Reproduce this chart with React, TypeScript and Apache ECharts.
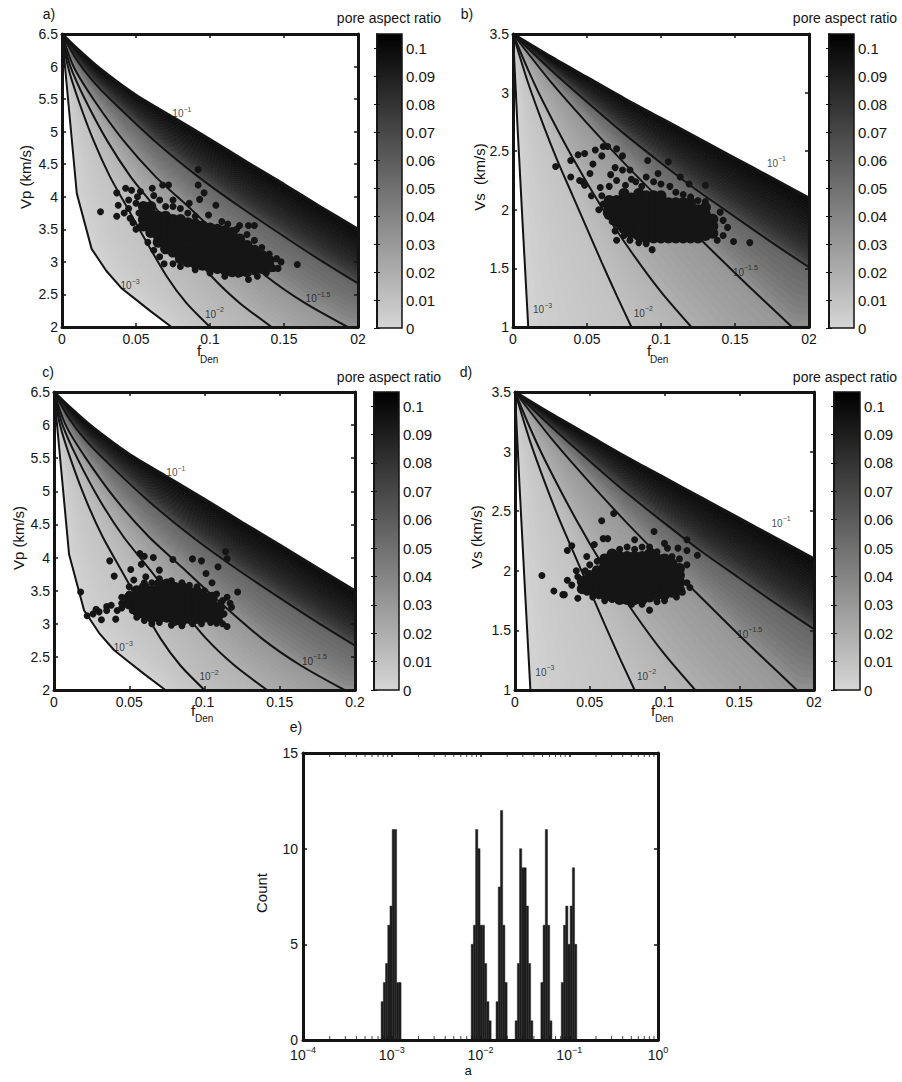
import React, { useEffect, useRef } from 'react';
import * as echarts from 'echarts';

const FONT = 'Liberation Sans, Arial, Helvetica, sans-serif';
const INK = '#141414';

// ---------- constant-aspect-ratio curves (x = f_Den, y = velocity) ----------
// exponents of the aspect ratio for each curve, top to bottom
const curveLogA = [-1, -1.25, -1.5, -1.75, -2, -3];

// Vp curves (panels a and c)
const vpA1 = [[0, 6.5], [0.01, 6.28], [0.025, 5.98], [0.05, 5.56], [0.075, 5.22], [0.1, 4.88], [0.125, 4.53], [0.15, 4.19], [0.175, 3.84], [0.2, 3.5]];
const vpA125 = [[0, 6.5], [0.01, 6.1], [0.02, 5.8], [0.033, 5.49], [0.062, 4.87], [0.092, 4.31], [0.12, 3.85], [0.15, 3.39], [0.175, 3.02], [0.2, 2.67]];
const vpA15 = [[0, 6.5], [0.0078, 6.0], [0.0215, 5.49], [0.0413, 4.87], [0.0632, 4.31], [0.0852, 3.85], [0.107, 3.39], [0.138, 2.78], [0.164, 2.37], [0.193, 2.0]];
const vpA175 = [[0, 6.5], [0.0057, 6.0], [0.0157, 5.49], [0.0303, 4.87], [0.0463, 4.31], [0.0625, 3.85], [0.0787, 3.39], [0.101, 2.78], [0.12, 2.37], [0.1416, 2.0]];
const vpA2 = [[0, 6.5], [0.004, 6.0], [0.011, 5.49], [0.0212, 4.87], [0.0324, 4.31], [0.0437, 3.85], [0.055, 3.39], [0.0707, 2.78], [0.084, 2.37], [0.1, 2.0]];
const vpA3 = [[0, 6.5], [0.01, 4.05], [0.02, 3.2], [0.03, 2.86], [0.04, 2.6], [0.05, 2.42], [0.06, 2.24], [0.074, 2.0]];
const vpCurves = [vpA1, vpA125, vpA15, vpA175, vpA2, vpA3];

// Vs curves (panels b and d)
const vsA1 = [[0, 3.5], [0.025, 3.31], [0.05, 3.13], [0.075, 2.95], [0.1, 2.78], [0.125, 2.61], [0.15, 2.44], [0.175, 2.27], [0.2, 2.1]];
const vsA125 = [[0, 3.5], [0.025, 3.2], [0.05, 2.92], [0.075, 2.65], [0.1, 2.4], [0.125, 2.16], [0.15, 1.94], [0.175, 1.72], [0.2, 1.51]];
const vsA15 = [[0, 3.5], [0.025, 3.1], [0.05, 2.74], [0.075, 2.4], [0.1, 2.08], [0.125, 1.77], [0.15, 1.46], [0.17, 1.22], [0.1885, 1.0]];
const vsA175 = [[0, 3.5], [0.01, 3.2], [0.02, 2.93], [0.04, 2.45], [0.06, 2.02], [0.08, 1.64], [0.1, 1.3], [0.1205, 1.0]];
const vsA2 = [[0, 3.5], [0.01, 3.09], [0.02, 2.74], [0.03, 2.42], [0.04, 2.13], [0.05, 1.84], [0.06, 1.55], [0.07, 1.27], [0.08, 1.0]];
const vsA3 = [[0, 3.5], [0.003, 2.72], [0.0065, 1.88], [0.0103, 1.0]];
const vsCurves = [vsA1, vsA125, vsA15, vsA175, vsA2, vsA3];

// curve labels [x, y] and exponent text
const vpLabels = [
  { value: [0.081, 5.3], name: '−1' },
  { value: [0.173, 2.46], name: '−1.5' },
  { value: [0.103, 2.22], name: '−2' },
  { value: [0.046, 2.66], name: '−3' },
];
const vsLabels = [
  { value: [0.178, 2.41], name: '−1' },
  { value: [0.157, 1.48], name: '−1.5' },
  { value: [0.088, 1.13], name: '−2' },
  { value: [0.02, 1.16], name: '−3' },
];

// ---------- measured points ----------
const outerA = [[0.026, 3.77], [0.037, 4.06], [0.037, 3.7], [0.038, 3.87], [0.043, 4.13], [0.047, 4.1], [0.045, 3.82], [0.046, 3.67], [0.051, 4.0], [0.053, 4.08], [0.055, 3.64], [0.061, 4.13], [0.062, 4.02], [0.068, 4.18], [0.072, 4.18], [0.075, 3.85], [0.075, 3.95], [0.092, 4.42], [0.092, 4.18], [0.096, 4.06], [0.093, 3.96], [0.104, 3.87], [0.099, 3.72], [0.12, 3.56], [0.126, 3.56], [0.13, 3.56], [0.148, 3.0], [0.159, 2.96], [0.126, 2.73], [0.119, 2.81], [0.062, 3.18], [0.066, 3.08], [0.069, 2.97], [0.075, 2.97], [0.143, 2.9], [0.146, 2.9],
  [0.045, 3.95], [0.05, 3.9], [0.052, 3.75], [0.058, 3.8], [0.066, 3.95], [0.07, 3.85], [0.08, 3.82], [0.085, 3.75], [0.09, 3.7], [0.108, 3.62], [0.112, 3.58], [0.118, 3.5], [0.125, 3.42], [0.13, 3.33], [0.135, 3.22], [0.14, 3.12], [0.145, 3.05], [0.138, 2.83], [0.132, 2.78], [0.11, 2.78], [0.1, 2.83], [0.09, 2.88], [0.08, 2.93], [0.058, 3.3], [0.05, 3.5], [0.048, 3.6], [0.042, 3.75], [0.086, 3.9], [0.064, 3.55]];
const coreA = [
  [0.055, 3.55, 3.65, 3.75, 3.85],
  [0.06, 3.45, 3.55, 3.65, 3.75, 3.85],
  [0.065, 3.3, 3.4, 3.5, 3.6, 3.7],
  [0.07, 3.2, 3.3, 3.4, 3.5, 3.6, 3.7],
  [0.075, 3.15, 3.25, 3.35, 3.45, 3.55, 3.65],
  [0.08, 3.05, 3.15, 3.25, 3.35, 3.45, 3.55, 3.65],
  [0.085, 3.0, 3.1, 3.2, 3.3, 3.4, 3.5, 3.6],
  [0.09, 2.98, 3.08, 3.18, 3.28, 3.38, 3.48, 3.58],
  [0.095, 2.95, 3.05, 3.15, 3.25, 3.35, 3.45, 3.55],
  [0.1, 2.92, 3.02, 3.12, 3.22, 3.32, 3.42, 3.52],
  [0.105, 2.9, 3.0, 3.1, 3.2, 3.3, 3.4, 3.5],
  [0.11, 2.88, 2.98, 3.08, 3.18, 3.28, 3.38, 3.48],
  [0.115, 2.85, 2.95, 3.05, 3.15, 3.25, 3.35, 3.45],
  [0.12, 2.85, 2.95, 3.05, 3.15, 3.25, 3.35],
  [0.125, 2.85, 2.95, 3.05, 3.15, 3.25],
  [0.13, 2.88, 2.98, 3.08, 3.18],
  [0.135, 2.9, 3.0, 3.1],
  [0.14, 2.92, 3.02],
];

const outerB = [[0.0288, 2.37], [0.039, 2.42], [0.039, 2.28], [0.044, 2.47], [0.0484, 2.48], [0.047, 2.24], [0.0484, 2.21], [0.054, 2.39], [0.0556, 2.51], [0.06, 2.46], [0.061, 2.54], [0.064, 2.54], [0.07, 2.52], [0.074, 2.46], [0.074, 2.34], [0.069, 2.36], [0.079, 2.34], [0.091, 2.42], [0.098, 2.31], [0.105, 2.41], [0.113, 2.28], [0.119, 2.22], [0.13, 2.21], [0.083, 2.24], [0.052, 2.31], [0.053, 2.12], [0.059, 2.19], [0.061, 2.05], [0.069, 1.82], [0.07, 1.74], [0.079, 1.74], [0.094, 1.66], [0.142, 1.91], [0.149, 1.73], [0.16, 1.72], [0.135, 1.82],
  [0.06, 2.12], [0.065, 2.2], [0.07, 2.25], [0.076, 2.21], [0.08, 2.26], [0.087, 2.2], [0.09, 2.28], [0.095, 2.24], [0.1, 2.22], [0.106, 2.2], [0.11, 2.15], [0.115, 2.13], [0.12, 2.11], [0.125, 2.08], [0.13, 2.07], [0.14, 1.98], [0.145, 1.85], [0.142, 1.78], [0.138, 1.74], [0.075, 1.78], [0.072, 1.86], [0.067, 1.9], [0.085, 1.72], [0.09, 1.71], [0.058, 2.0], [0.063, 1.97], [0.045, 2.25], [0.066, 2.3]];
const coreB = [
  [0.065, 1.96, 2.02, 2.08],
  [0.07, 1.9, 1.96, 2.02, 2.08],
  [0.075, 1.84, 1.9, 1.96, 2.02, 2.08, 2.14],
  [0.08, 1.8, 1.86, 1.92, 1.98, 2.04, 2.1],
  [0.085, 1.78, 1.84, 1.9, 1.96, 2.02, 2.08, 2.14],
  [0.09, 1.76, 1.82, 1.88, 1.94, 2.0, 2.06, 2.12],
  [0.095, 1.76, 1.82, 1.88, 1.94, 2.0, 2.06, 2.12],
  [0.1, 1.76, 1.82, 1.88, 1.94, 2.0, 2.06, 2.12],
  [0.105, 1.76, 1.82, 1.88, 1.94, 2.0, 2.06],
  [0.11, 1.76, 1.82, 1.88, 1.94, 2.0, 2.06],
  [0.115, 1.76, 1.82, 1.88, 1.94, 2.0, 2.06],
  [0.12, 1.76, 1.82, 1.88, 1.94, 2.0, 2.06],
  [0.125, 1.76, 1.82, 1.88, 1.94, 2.0],
  [0.13, 1.78, 1.84, 1.9, 1.96, 2.02],
  [0.135, 1.8, 1.86, 1.92],
];

const outerC = [[0.0177, 3.48], [0.026, 3.15], [0.0315, 3.06], [0.03, 3.18], [0.035, 3.26], [0.037, 3.95], [0.04, 3.72], [0.041, 3.07], [0.045, 3.31], [0.05, 3.56], [0.051, 3.82], [0.053, 3.66], [0.055, 3.1], [0.057, 4.06], [0.06, 4.02], [0.058, 3.9], [0.061, 3.71], [0.066, 4.0], [0.07, 3.81], [0.079, 3.97], [0.092, 3.98], [0.098, 3.95], [0.101, 3.76], [0.105, 3.62], [0.109, 3.86], [0.114, 4.09], [0.115, 3.98], [0.122, 3.48], [0.117, 3.31], [0.112, 3.0], [0.115, 2.96], [0.108, 3.01],
  [0.035, 3.2], [0.038, 3.28], [0.042, 3.2], [0.045, 3.24], [0.048, 3.32], [0.045, 3.4], [0.05, 3.45], [0.052, 3.2], [0.056, 3.12], [0.06, 3.05], [0.065, 3.0], [0.07, 3.02], [0.078, 2.98], [0.085, 2.97], [0.092, 3.0], [0.098, 3.0], [0.104, 3.02], [0.11, 3.05], [0.113, 3.15], [0.112, 3.35], [0.108, 3.45], [0.1, 3.5], [0.095, 3.56], [0.09, 3.58], [0.085, 3.62], [0.078, 3.65], [0.07, 3.68], [0.065, 3.62], [0.06, 3.62], [0.115, 3.4], [0.118, 3.25], [0.028, 3.22], [0.022, 3.12]];
const coreC = [
  [0.05, 3.3, 3.4],
  [0.055, 3.2, 3.3, 3.4, 3.5],
  [0.06, 3.15, 3.25, 3.35, 3.45, 3.55],
  [0.065, 3.1, 3.2, 3.3, 3.4, 3.5],
  [0.07, 3.1, 3.2, 3.3, 3.4, 3.5, 3.6],
  [0.075, 3.1, 3.2, 3.3, 3.4, 3.5, 3.6],
  [0.08, 3.05, 3.15, 3.25, 3.35, 3.45, 3.55],
  [0.085, 3.05, 3.15, 3.25, 3.35, 3.45, 3.55],
  [0.09, 3.08, 3.18, 3.28, 3.38, 3.48],
  [0.095, 3.08, 3.18, 3.28, 3.38, 3.48],
  [0.1, 3.1, 3.2, 3.3, 3.4],
  [0.105, 3.1, 3.2, 3.3, 3.4],
  [0.11, 3.15, 3.25],
];

const outerD = [[0.018, 1.96], [0.026, 1.83], [0.032, 1.8], [0.033, 1.8], [0.035, 2.17], [0.038, 2.21], [0.041, 2.0], [0.047, 2.0], [0.048, 2.12], [0.053, 2.22], [0.055, 2.08], [0.058, 2.42], [0.059, 2.27], [0.062, 2.27], [0.066, 2.48], [0.08, 2.26], [0.093, 2.33], [0.1, 2.23], [0.102, 2.19], [0.109, 2.19], [0.115, 2.26], [0.115, 2.17], [0.122, 2.13], [0.117, 1.86], [0.09, 1.67], [0.042, 1.77], [0.046, 1.87], [0.056, 1.79], [0.065, 1.76], [0.072, 1.76],
  [0.05, 2.05], [0.052, 1.78], [0.06, 1.75], [0.07, 2.18], [0.075, 2.2], [0.08, 2.18], [0.085, 2.2], [0.09, 2.2], [0.095, 2.16], [0.105, 2.12], [0.11, 2.1], [0.115, 2.05], [0.115, 1.9], [0.112, 1.82], [0.108, 1.78], [0.1, 1.75], [0.095, 1.74], [0.085, 1.72], [0.078, 1.72], [0.038, 1.88], [0.035, 1.92], [0.042, 1.95], [0.048, 1.82]];
const coreD = [
  [0.045, 1.85, 1.91],
  [0.05, 1.84, 1.9, 1.96],
  [0.055, 1.82, 1.88, 1.94, 2.0],
  [0.06, 1.8, 1.86, 1.92, 1.98, 2.04, 2.1],
  [0.065, 1.78, 1.84, 1.9, 1.96, 2.02, 2.08, 2.14],
  [0.07, 1.76, 1.82, 1.88, 1.94, 2.0, 2.06, 2.12],
  [0.075, 1.76, 1.82, 1.88, 1.94, 2.0, 2.06, 2.12],
  [0.08, 1.76, 1.82, 1.88, 1.94, 2.0, 2.06, 2.12],
  [0.085, 1.76, 1.82, 1.88, 1.94, 2.0, 2.06, 2.12],
  [0.09, 1.78, 1.84, 1.9, 1.96, 2.02, 2.08, 2.14],
  [0.095, 1.8, 1.86, 1.92, 1.98, 2.04, 2.1],
  [0.1, 1.8, 1.86, 1.92, 1.98, 2.04, 2.1],
  [0.105, 1.82, 1.88, 1.94, 2.0, 2.06],
  [0.11, 1.84, 1.9, 1.96, 2.02],
];

// colour bar range and ticks
const cbarMax = 0.105;
const cbarStep = 0.01;

// ---------- histogram (panel e): bin left edge (log10 a), bin width, counts ----------
const histBinWidthLog = 0.025;
const histBinLeftLog = [
  -3.12, -3.095, -3.07, -3.045, -3.02, -2.995, -2.97, -2.945, -2.92,
  -2.105, -2.08, -2.055, -2.03, -2.005, -1.98, -1.955, -1.93, -1.905,
  -1.825, -1.8, -1.775, -1.75, -1.725,
  -1.61, -1.585, -1.56, -1.535, -1.51, -1.485, -1.46, -1.435,
  -1.32, -1.295, -1.27, -1.245, -1.22,
  -1.09, -1.065, -1.04, -1.015, -0.99, -0.965, -0.94,
];
const histCounts = [
  2, 3, 4, 6, 7, 11, 11, 3, 3,
  5, 6, 11, 10, 6, 6, 4, 2, 1,
  2, 8, 12, 6, 3,
  1, 4, 10, 9, 9, 7, 4, 1,
  3, 6, 11, 6, 1,
  3, 6, 7, 5, 7, 9, 5,
];
const logDecades = [1e-4, 1e-3, 1e-2, 1e-1];
const minorMultipliers = [2, 3, 4, 5, 6, 7, 8, 9];

// ---------- helpers ----------
function gray(a: number) {
  const g = Math.max(0, Math.min(255, Math.round(214 - 2040 * a)));
  return `rgb(${g},${g},${g})`;
}

function flattenRows(rows: number[][]) {
  const out: number[][] = [];
  rows.forEach((r) => { for (let i = 1; i < r.length; i++) out.push([r[0], r[i]]); });
  return out;
}

function resample(p: number[][], n: number) {
  const cum = [0];
  for (let i = 1; i < p.length; i++) cum.push(cum[i - 1] + Math.hypot(p[i][0] - p[i - 1][0], p[i][1] - p[i - 1][1]));
  const tot = cum[cum.length - 1];
  const out: number[][] = [];
  let j = 1;
  for (let k = 0; k <= n; k++) {
    const t = (tot * k) / n;
    while (j < p.length - 1 && cum[j] < t) j++;
    const seg = cum[j] - cum[j - 1] || 1;
    const u = Math.min(1, Math.max(0, (t - cum[j - 1]) / seg));
    out.push([p[j - 1][0] + (p[j][0] - p[j - 1][0]) * u, p[j - 1][1] + (p[j][1] - p[j - 1][1]) * u]);
  }
  return out;
}

function shadingRender(curves: number[][][], xmax: number, ymin: number) {
  return (_params: any, api: any) => {
    const children: any[] = [];
    for (let i = 0; i < curves.length - 1; i++) {
      const hi = curves[i];
      let lo = curves[i + 1];
      const loLast = lo[lo.length - 1];
      const hiLast = hi[hi.length - 1];
      if (loLast[1] === ymin && hiLast[0] === xmax && hiLast[1] > ymin) lo = [...lo, [xmax, ymin]];
      const loP = resample(lo.map((p) => api.coord(p)), 90);
      const hiP = resample(hi.map((p) => api.coord(p)), 90);
      const K = i === 0 ? 24 : 10;
      const aLo = Math.pow(10, curveLogA[i + 1]);
      const aHi = Math.pow(10, curveLogA[i]);
      const gam = i === 0 ? 0.4 : 0.7;
      for (let k = 0; k < K; k++) {
        const t0 = k / K;
        const t1 = (k + 1) / K;
        const c0 = loP.map((p, j) => [p[0] + (hiP[j][0] - p[0]) * t0, p[1] + (hiP[j][1] - p[1]) * t0]);
        const c1 = loP.map((p, j) => [p[0] + (hiP[j][0] - p[0]) * t1, p[1] + (hiP[j][1] - p[1]) * t1]);
        const pts = c0.concat(c1.reverse());
        const tm = Math.pow((t0 + t1) / 2, gam);
        const col = gray(aLo + (aHi - aLo) * tm);
        children.push({ type: 'polygon', shape: { points: pts }, style: { fill: col, stroke: col, lineWidth: 0.8 }, silent: true });
      }
    }
    return { type: 'group', children };
  };
}

function buildOption() {
  const grid: any[] = [];
  const xAxis: any[] = [];
  const yAxis: any[] = [];
  const series: any[] = [];
  const graphic: any[] = [];

  const axisLine = { show: true, onZero: false, lineStyle: { color: INK, width: 3 } };
  const tick = { show: true, inside: true, length: 4, lineStyle: { color: INK, width: 1.5 } };
  const noSplit = { show: false };
  const lblBase = { color: INK, fontFamily: FONT, fontSize: 14 };
  const supRich = (b: number, s: number) => ({
    b: { fontSize: b, fontFamily: FONT, color: '#111', lineHeight: b + 3, verticalAlign: 'bottom' },
    s: { fontSize: s, fontFamily: FONT, color: '#111', lineHeight: s, verticalAlign: 'top' },
  });

  const text = (x: number, y: number, t: string, size: number, extra: any = {}) => graphic.push({
    type: 'text', x, y, rotation: extra.rotation || 0, z: 100,
    style: { text: t, fontSize: size, fontFamily: extra.font || FONT, fill: INK, align: extra.align || 'center', verticalAlign: 'middle' },
  });

  const panels = [
    { rect: [62, 34, 296, 293], cb: [377, 34, 25, 294], curves: vpCurves, ymin: 2, ymax: 6.5, last: '02', labels: vpLabels, outer: outerA, core: coreA },
    { rect: [513, 34, 296, 293], cb: [829, 34, 25, 294], curves: vsCurves, ymin: 1, ymax: 3.5, last: '02', labels: vsLabels, outer: outerB, core: coreB },
    { rect: [54, 392, 301, 298], cb: [374, 392, 25, 298], curves: vpCurves, ymin: 2, ymax: 6.5, last: '0.2', labels: vpLabels, outer: outerC, core: coreC },
    { rect: [515, 392, 299, 298], cb: [834, 392, 26, 298], curves: vsCurves, ymin: 1, ymax: 3.5, last: '02', labels: vsLabels, outer: outerD, core: coreD },
  ];

  const dotStyle = { color: '#151515', opacity: 1 };

  panels.forEach((p) => {
    const gi = grid.length;
    grid.push({ left: p.rect[0], top: p.rect[1], width: p.rect[2], height: p.rect[3] });
    const xi = xAxis.length;
    xAxis.push({
      type: 'value', gridIndex: gi, position: 'bottom', min: 0, max: 0.2, interval: 0.05, z: 10,
      axisLine, axisTick: tick, splitLine: noSplit,
      axisLabel: { ...lblBase, margin: 5, formatter: (v: number) => { const r = Math.round(v * 1000) / 1000; if (r === 0) return '0'; if (Math.abs(r - 0.2) < 1e-9) return p.last; return String(r); } },
    });
    xAxis.push({ type: 'value', gridIndex: gi, position: 'top', min: 0, max: 0.2, interval: 0.05, z: 10, axisLine, axisTick: tick, splitLine: noSplit, axisLabel: { show: false } });
    const yi = yAxis.length;
    yAxis.push({
      type: 'value', gridIndex: gi, position: 'left', min: p.ymin, max: p.ymax, interval: 0.5, z: 10,
      axisLine, axisTick: tick, splitLine: noSplit,
      axisLabel: { ...lblBase, margin: 4, formatter: (v: number) => String(Math.round(v * 100) / 100) },
    });
    yAxis.push({ type: 'value', gridIndex: gi, position: 'right', min: p.ymin, max: p.ymax, interval: 0.5, z: 10, axisLine, axisTick: tick, splitLine: noSplit, axisLabel: { show: false } });

    series.push({ type: 'custom', xAxisIndex: xi, yAxisIndex: yi, data: [[0, p.ymin]], renderItem: shadingRender(p.curves, 0.2, p.ymin), z: 1, silent: true, clip: true });
    p.curves.forEach((c, i) => series.push({
      type: 'line', xAxisIndex: xi, yAxisIndex: yi, data: c, symbol: 'none', smooth: i === 5 ? false : 0.25,
      lineStyle: { color: INK, width: i === 0 ? 3 : 2 }, z: 3, silent: true,
    }));
    series.push({
      type: 'scatter', xAxisIndex: xi, yAxisIndex: yi, data: p.labels, symbolSize: 1, itemStyle: { color: 'rgba(0,0,0,0)' }, z: 4, silent: true,
      label: { show: true, position: 'inside', formatter: (q: any) => `{b|10}{s|${q.name}}`, rich: supRich(10, 7) },
    });
    series.push({ type: 'scatter', xAxisIndex: xi, yAxisIndex: yi, data: p.outer, symbolSize: 7, itemStyle: dotStyle, z: 5, silent: true });
    series.push({ type: 'scatter', xAxisIndex: xi, yAxisIndex: yi, data: flattenRows(p.core), symbolSize: 11, itemStyle: dotStyle, z: 5, silent: true });

    // colour bar
    const ci = grid.length;
    grid.push({ left: p.cb[0], top: p.cb[1], width: p.cb[2], height: p.cb[3] });
    const cx = xAxis.length;
    xAxis.push({ type: 'value', gridIndex: ci, min: 0, max: 1, show: false });
    const cy = yAxis.length;
    const cbTick = { show: true, inside: true, length: 3, lineStyle: { color: INK, width: 1 } };
    yAxis.push({
      type: 'value', gridIndex: ci, position: 'right', min: 0, max: cbarMax, interval: cbarStep, z: 10,
      axisLine: { show: true, lineStyle: { color: INK, width: 1.5 } }, axisTick: cbTick, splitLine: noSplit,
      axisLabel: { ...lblBase, fontSize: 15, margin: 4, showMaxLabel: false, formatter: (v: number) => String(Math.round(v * 1000) / 1000) },
    });
    yAxis.push({
      type: 'value', gridIndex: ci, position: 'left', min: 0, max: cbarMax, interval: cbarStep, z: 10,
      axisLine: { show: true, lineStyle: { color: INK, width: 1.5 } }, axisTick: cbTick, splitLine: noSplit, axisLabel: { show: false },
    });
    series.push({
      type: 'custom', xAxisIndex: cx, yAxisIndex: cy, data: [[0, 0]], z: 1, silent: true,
      renderItem: (_pa: any, api: any) => {
        const p0 = api.coord([0, cbarMax]);
        const p1 = api.coord([1, 0]);
        return {
          type: 'rect', shape: { x: p0[0], y: p0[1], width: p1[0] - p0[0], height: p1[1] - p0[1] },
          style: { fill: new echarts.graphic.LinearGradient(0, 0, 0, 1, [{ offset: 0, color: gray(cbarMax) }, { offset: 1, color: gray(0) }]), stroke: INK, lineWidth: 1.5 },
        };
      },
    });
  });

  // ---------- histogram panel ----------
  const gi = grid.length;
  grid.push({ left: 303, top: 753, width: 355, height: 287 });
  const hx = xAxis.length;
  xAxis.push({
    type: 'log', logBase: 10, gridIndex: gi, position: 'bottom', min: 1e-4, max: 1, z: 10,
    axisLine, axisTick: tick, splitLine: noSplit, minorTick: { show: false },
    axisLabel: { margin: 5, formatter: (v: number) => `{b|10}{s|${String(Math.round(Math.log10(v))).replace('-', '−')}}`, rich: { b: { fontSize: 14, fontFamily: FONT, color: INK, lineHeight: 17, verticalAlign: 'bottom' }, s: { fontSize: 9, fontFamily: FONT, color: INK, lineHeight: 8, verticalAlign: 'top' } } },
  });
  xAxis.push({ type: 'log', logBase: 10, gridIndex: gi, position: 'top', min: 1e-4, max: 1, z: 10, axisLine, axisTick: tick, splitLine: noSplit, axisLabel: { show: false } });
  const hy = yAxis.length;
  yAxis.push({ type: 'value', gridIndex: gi, position: 'left', min: 0, max: 15, interval: 5, z: 10, axisLine, axisTick: tick, splitLine: noSplit, axisLabel: { ...lblBase, margin: 5 } });
  yAxis.push({ type: 'value', gridIndex: gi, position: 'right', min: 0, max: 15, interval: 5, z: 10, axisLine, axisTick: tick, splitLine: noSplit, axisLabel: { show: false } });

  const histData = histBinLeftLog.map((l, i) => [Math.pow(10, l), histCounts[i], Math.pow(10, l + histBinWidthLog)]);
  series.push({
    type: 'custom', xAxisIndex: hx, yAxisIndex: hy, data: histData, z: 3, silent: true,
    encode: { x: 0, y: 1 },
    renderItem: (_pa: any, api: any) => {
      const p0 = api.coord([api.value(0), api.value(1)]);
      const p1 = api.coord([api.value(2), 0]);
      return { type: 'rect', shape: { x: p0[0], y: p0[1], width: p1[0] - p0[0], height: p1[1] - p0[1] }, style: { fill: '#1c1c1c', stroke: '#262626', lineWidth: 0.5 } };
    },
  });
  const minorData: number[][] = [];
  logDecades.forEach((d) => minorMultipliers.forEach((m) => minorData.push([d * m, 0])));
  series.push({
    type: 'custom', xAxisIndex: hx, yAxisIndex: hy, data: minorData, z: 11, silent: true, encode: { x: 0, y: 1 },
    renderItem: (_pa: any, api: any) => {
      const pb = api.coord([api.value(0), 0]);
      const pt = api.coord([api.value(0), 15]);
      return {
        type: 'group', children: [
          { type: 'line', shape: { x1: pb[0], y1: pb[1] - 1, x2: pb[0], y2: pb[1] - 4 }, style: { stroke: INK, lineWidth: 0.8 } },
          { type: 'line', shape: { x1: pt[0], y1: pt[1] + 1, x2: pt[0], y2: pt[1] + 4 }, style: { stroke: INK, lineWidth: 0.8 } },
        ],
      };
    },
  });

  // ---------- texts ----------
  text(49, 14, 'a)', 14);
  text(467, 14, 'b)', 14);
  text(48, 372, 'c)', 14);
  text(466, 372, 'd)', 14);
  text(296, 727, 'e)', 14);
  text(389, 18, 'pore aspect ratio', 14);
  text(845, 18, 'pore aspect ratio', 14);
  text(389, 377, 'pore aspect ratio', 14);
  text(845, 377, 'pore aspect ratio', 14);
  text(25, 177, 'Vp (km/s)', 15, { rotation: Math.PI / 2 });
  text(479, 177, 'Vs  (km/s)', 15, { rotation: Math.PI / 2 });
  text(18, 538, 'Vp (km/s)', 15, { rotation: Math.PI / 2 });
  text(476, 537, 'Vs (km/s)', 15, { rotation: Math.PI / 2 });
  text(261, 893, 'Count', 15, { rotation: Math.PI / 2 });
  // f_Den labels
  [[199, 350, 200, 359], [649, 350, 650, 359], [193, 710, 195, 718], [653, 710, 655, 718]].forEach((q) => {
    text(q[0], q[1], 'f', 15);
    text(q[2], q[3], 'Den', 10, { align: 'left' });
  });
  text(468, 1070, 'a', 13);

  return { animation: false, backgroundColor: '#ffffff', grid, xAxis, yAxis, series, graphic };
}

export default function App() {
  const ref = useRef<HTMLDivElement>(null);
  useEffect(() => {
    const chart = echarts.init(ref.current as HTMLDivElement, null, { renderer: 'svg' });
    chart.setOption(buildOption() as any);
    return () => chart.dispose();
  }, []);
  return <div ref={ref} style={{ position: 'absolute', left: 0, top: 0, width: 902, height: 1082, background: '#fff' }} />;
}
